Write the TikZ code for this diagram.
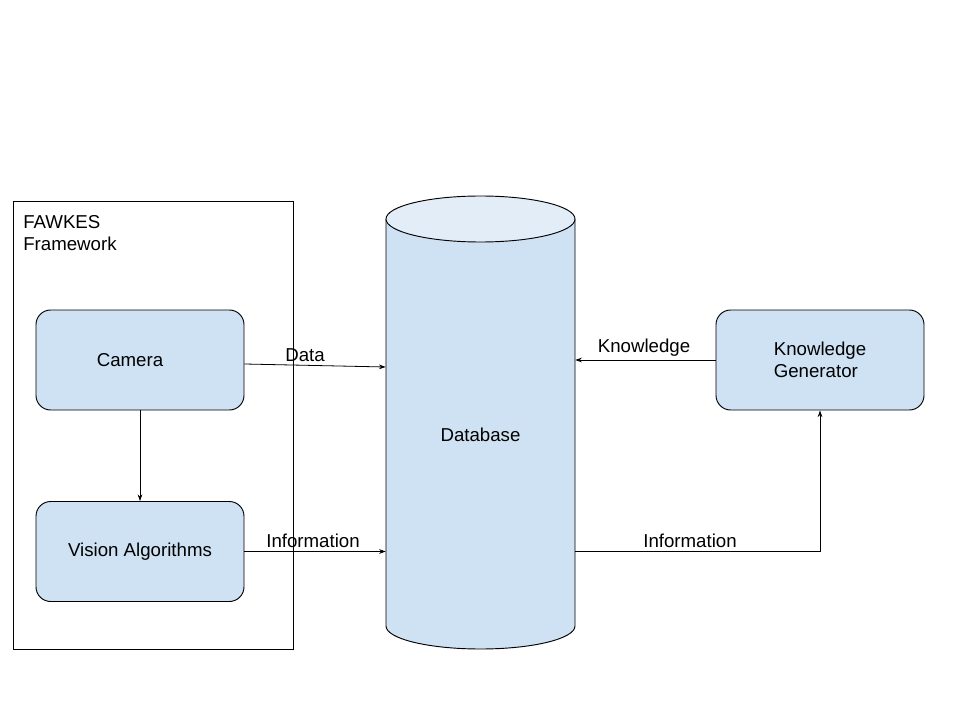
\documentclass[tikz,border=0pt]{standalone}
\usepackage{fontspec}
\setmainfont{Liberation Sans}
\usetikzlibrary{arrows.meta}

\definecolor{boxblue}{HTML}{CFE2F3}
\definecolor{capblue}{HTML}{E3EDF8}
\newcommand{\pxl}{0.75pt}

\begin{document}
\begin{tikzpicture}[x=0.75pt, y=-0.75pt,
    font=\fontsize{14}{16.5}\selectfont,
    box/.style={draw, line width=0.7pt, fill=boxblue, rounded corners=11pt,
      minimum width=208*\pxl, minimum height=100*\pxl, align=left},
    link/.style={-{Stealth[length=5pt,width=3.5pt]}, line width=0.6pt},
    tag/.style={inner sep=0pt}]
  \useasboundingbox (0,0) rectangle (960,720);

  % framework frame
  \node[draw, line width=0.6pt, minimum width=280*\pxl, minimum height=448*\pxl] (fawkes) at (153,425) {};
  \node[tag, anchor=north west, align=left] (fawkestitle) at (23,215) {FAWKES\\Framework};

  \node[box] (camera)    at (140,360) {Camera\hspace*{15pt}};
  \node[box] (vision)    at (140,551.5) {Vision Algorithms};
  \node[box] (generator) at (820,360) {Knowledge\\Generator};

  % database cylinder
  \draw[line width=0.7pt, fill=boxblue] (386,219) -- (386,626)
    arc[start angle=180, end angle=0, x radius=94.5, y radius=23] -- (575,219);
  \draw[line width=0.7pt, fill=capblue] (480.5,219) ellipse[x radius=94.5, y radius=23];
  \node[minimum width=189*\pxl, minimum height=380*\pxl] (database) at (480.5,435) {Database};

  % connectors
  \draw[link] ([shift={(0,4)}]camera.east) -- ([shift={(0,7)}]camera.east -| database.west);
  \draw[link] (camera.south) -- (vision.north);
  \draw[link] (vision.east) -- (vision.east -| database.west);
  \draw[link] (generator.west) -- (generator.west -| database.east);
  \draw[link] (database.east |- vision.east) -| (generator.south);

  \node[tag] (datatag)     at (305,355) {Data};
  \node[tag] (infotagl)    at (313,541) {Information};
  \node[tag] (knowtag)     at (644,348) {Knowledge};
  \node[tag] (infotagr)    at (690,541) {Information};
\end{tikzpicture}
\end{document}
